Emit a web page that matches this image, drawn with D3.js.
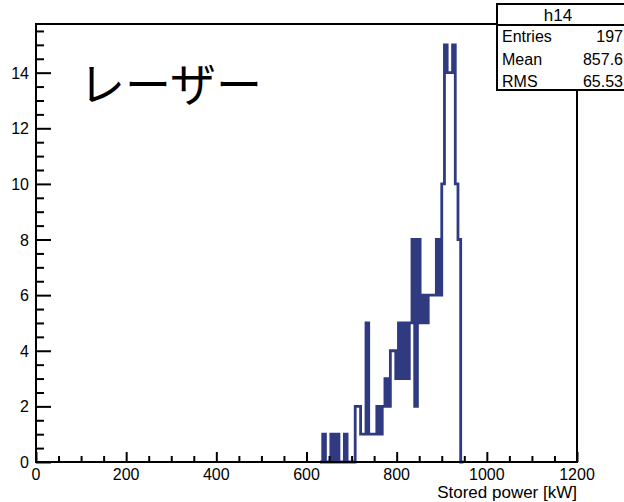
<!DOCTYPE html>
<html>
<head>
<meta charset="utf-8">
<script src="https://cdn.jsdelivr.net/npm/d3@7/dist/d3.min.js"></script>
<style>
  html, body { margin: 0; padding: 0; background: #ffffff; }
  svg { display: block; }
  text { font-family: "Liberation Sans", Arial, Helvetica, sans-serif; fill: #000; }
</style>
</head>
<body>
<svg id="chart" width="624" height="502"></svg>
<script>
// Histogram h14: stored power, 6 kW bins (lower edge of each bin, entries per bin)
const binWidth = 6;
const binLow = [630, 636, 642, 648, 654, 660, 666, 672, 678, 684, 690, 696, 702,
                708, 714, 720, 726, 732, 738, 744, 750, 756, 762, 768, 774, 780,
                786, 792, 798, 804, 810, 816, 822, 828, 834, 840, 846, 852, 858,
                864, 870, 876, 882, 888, 894, 900, 906, 912, 918, 924, 930, 936, 942];
const binCount = [0, 1, 0, 0, 1, 0, 1, 0, 0, 1, 0, 0, 0,
                  2, 2, 1, 1, 5, 1, 1, 1, 2, 1, 2, 3, 2,
                  4, 4, 3, 5, 3, 5, 3, 5, 8, 2, 8, 5, 6,
                  5, 6, 6, 6, 8, 6, 10, 15, 14, 14, 15, 10, 8, 0];

// Axis ticks
const xMajorTicks = [0, 200, 400, 600, 800, 1000, 1200];
const yMajorTicks = [0, 2, 4, 6, 8, 10, 12, 14];

// Statistics box
const statTitle = "h14";
const statNames = ["Entries", "Mean", "RMS"];
const statValues = ["197", "857.6", "65.53"];

const xTitle = "Stored power [kW]";
const label = "レーザー";

const svg = d3.select("#chart");
const frame = { left: 36, right: 577, top: 24, bottom: 462 };

const x = d3.scaleLinear().domain([0, 1200]).range([frame.left, frame.right]);
const y = d3.scaleLinear().domain([0, 15.75]).range([frame.bottom, frame.top]);

// Histogram outline as a step path
const pts = [[binLow[0], 0]];
binLow.forEach((lo, i) => {
  pts.push([lo, binCount[i]]);
  pts.push([lo + binWidth, binCount[i]]);
});
pts.push([binLow[binLow.length - 1] + binWidth, 0]);

svg.append("path")
  .attr("d", d3.line().x(d => x(d[0])).y(d => y(d[1]))(pts))
  .attr("fill", "none")
  .attr("stroke", "#2f3a80")
  .attr("stroke-width", 2.8)
  .attr("stroke-linejoin", "miter");

// Frame
svg.append("rect")
  .attr("x", frame.left).attr("y", frame.top)
  .attr("width", frame.right - frame.left)
  .attr("height", frame.bottom - frame.top)
  .attr("fill", "none").attr("stroke", "#000").attr("stroke-width", 2);

// X axis (ticks pointing into the frame)
const xAxis = d3.axisBottom(x)
  .tickValues(d3.range(0, 1201, 50))
  .tickSize(0)
  .tickFormat("");
const gx = svg.append("g").attr("transform", `translate(0,${frame.bottom})`).call(xAxis);
gx.select(".domain").remove();
gx.selectAll(".tick line")
  .attr("y2", d => xMajorTicks.includes(d) ? -10 : -6)
  .attr("stroke", "#000").attr("stroke-width", 2);
svg.append("g").selectAll("text").data(xMajorTicks).join("text")
  .attr("x", d => x(d)).attr("y", frame.bottom + 18)
  .attr("text-anchor", "middle")
  .attr("font-size", 16)
  .text(d => d);

// Y axis (ticks pointing into the frame)
const yAxis = d3.axisLeft(y)
  .tickValues(d3.range(0, 15.6, 0.5))
  .tickSize(0)
  .tickFormat("");
const gy = svg.append("g").attr("transform", `translate(${frame.left},0)`).call(yAxis);
gy.select(".domain").remove();
gy.selectAll(".tick line")
  .attr("x2", d => yMajorTicks.includes(d) ? 15 : 8)
  .attr("stroke", "#000").attr("stroke-width", 2);
svg.append("g").selectAll("text").data(yMajorTicks).join("text")
  .attr("x", 29).attr("y", d => y(d) + 6)
  .attr("text-anchor", "end")
  .attr("font-size", 16)
  .text(d => d);

// Axis title
svg.append("text")
  .attr("x", frame.right).attr("y", 498)
  .attr("text-anchor", "end")
  .attr("font-size", 17)
  .text(xTitle);

// Japanese label inside the frame
svg.append("text")
  .attr("x", 79).attr("y", 101)
  .attr("font-size", 46)
  .style("font-family", "'Noto Sans CJK JP', 'Noto Sans', sans-serif")
  .text(label);

// Statistics box
const stat = svg.append("g");
stat.append("rect")
  .attr("x", 497).attr("y", 4).attr("width", 140).attr("height", 86)
  .attr("fill", "#fff").attr("stroke", "#000").attr("stroke-width", 2);
stat.append("line")
  .attr("x1", 497).attr("x2", 637).attr("y1", 25).attr("y2", 25)
  .attr("stroke", "#000").attr("stroke-width", 2);
stat.append("text")
  .attr("x", 558).attr("y", 21)
  .attr("text-anchor", "middle").attr("font-size", 17)
  .text(statTitle);
const rowY = [42, 65, 87];
stat.selectAll("text.name").data(statNames).join("text")
  .attr("class", "name")
  .attr("x", 502).attr("y", (d, i) => rowY[i])
  .attr("font-size", 16)
  .text(d => d);
stat.selectAll("text.val").data(statValues).join("text")
  .attr("class", "val")
  .attr("x", 623).attr("y", (d, i) => rowY[i])
  .attr("text-anchor", "end")
  .attr("font-size", 16)
  .text(d => d);
</script>
</body>
</html>
